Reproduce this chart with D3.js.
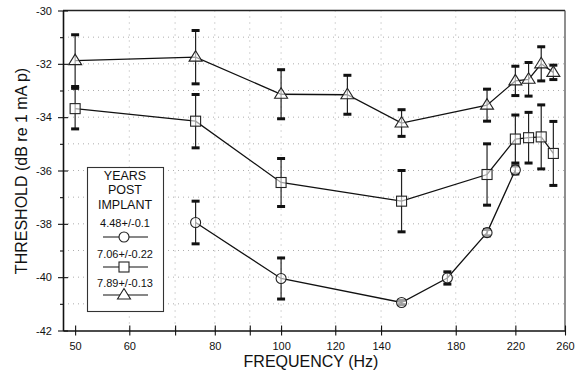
<!DOCTYPE html>
<html><head><meta charset="utf-8">
<script src="https://cdn.jsdelivr.net/npm/d3@7"></script>
<style>body{margin:0;background:#fff}svg{display:block}text{font-family:"Liberation Sans",Arial,sans-serif;fill:#111}</style>
</head><body><svg id="c" width="588" height="375"></svg>
<script>
const xTickLabels = [50, 60, 80, 100, 120, 140, 180, 220, 260];
const xMinorTicks = [70, 90];
const yTickLabels = [-30, -32, -34, -36, -38, -40, -42];

const freqCircle = [75, 100, 150, 175, 200, 220];
const valCircle  = [-37.95, -40.05, -40.95, -40.03, -38.33, -35.98];
const errCircle  = [0.8, 0.77, 0.08, 0.23, 0.12, 0.15];

const freqSquare = [50, 75, 100, 150, 200, 220, 230, 240, 250];
const valSquare  = [-33.68, -34.15, -36.45, -37.15, -36.15, -34.82, -34.77, -34.74, -35.36];
const errSquare  = [0.76, 1.0, 0.9, 1.15, 1.15, 0.9, 0.95, 1.2, 1.2];

const freqTri = [50, 75, 100, 125, 150, 200, 220, 230, 240, 250];
const valTri  = [-31.88, -31.75, -33.14, -33.16, -34.22, -33.55, -32.64, -32.58, -32.0, -32.32];
const errTri  = [0.97, 1.0, 0.92, 0.73, 0.5, 0.6, 0.55, 0.63, 0.64, 0.27];

const legendTitle = ["YEARS", "POST", "IMPLANT"];
const legendLabels = ["4.48+/-0.1", "7.06+/-0.22", "7.89+/-0.13"];
const shapes = ["circle", "square", "triangle"];

const svg = d3.select("#c");
const L = 63, R = 565, T = 10.5, B = 330.5;
const x = d3.scaleLog().domain([48, 260]).range([L, R]);
const y = d3.scaleLinear().domain([-42, -30]).range([B, T]);

// grid
const g = svg.append("g");
d3.range(-41, -30).forEach(v => {
  g.append("line").attr("x1", L).attr("x2", R).attr("y1", y(v)).attr("y2", y(v))
   .attr("stroke", "#999").attr("stroke-width", 0.8).attr("stroke-dasharray", "1,4");
});
xTickLabels.slice(1, -1).concat(xMinorTicks).forEach(f => {
  g.append("line").attr("x1", x(f)).attr("x2", x(f)).attr("y1", T).attr("y2", B)
   .attr("stroke", "#999").attr("stroke-width", 0.8).attr("stroke-dasharray", "1,5");
});

// frame
svg.append("line").attr("x1", L).attr("x2", R).attr("y1", T).attr("y2", T).attr("stroke", "#222").attr("stroke-width", 1.6);
svg.append("line").attr("x1", R).attr("x2", R).attr("y1", T).attr("y2", B).attr("stroke", "#444").attr("stroke-width", 1.2);

// axes
const xAxis = d3.axisBottom(x).tickValues(xTickLabels.concat(xMinorTicks))
  .tickFormat(d => xTickLabels.includes(d) ? d : "").tickSizeInner(5).tickSizeOuter(0).tickPadding(7);
const gx = svg.append("g").attr("transform", `translate(0,${B})`).call(xAxis);
gx.select(".domain").attr("stroke", "#111").attr("stroke-width", 1.4);
gx.selectAll(".tick line").attr("y1", -5).attr("stroke", "#111").attr("stroke-width", 1.1);
gx.selectAll(".tick text").attr("font-size", 11).attr("font-family", "Liberation Sans, Arial").attr("fill", "#111");

const yAxis = d3.axisLeft(y).tickValues(d3.range(-42, -29)).tickFormat(d => yTickLabels.includes(d) ? d : "")
  .tickSizeInner(5).tickSizeOuter(0).tickPadding(6);
const gy = svg.append("g").attr("transform", `translate(${L},0)`).call(yAxis);
gy.select(".domain").attr("stroke", "#111").attr("stroke-width", 1.6);
gy.selectAll(".tick line").attr("x2", d => yTickLabels.includes(d) ? 5 : 0).attr("x1", d => yTickLabels.includes(d) ? -5 : -3).attr("stroke", "#111").attr("stroke-width", 1.1);
gy.selectAll(".tick text").attr("font-size", 11).attr("font-family", "Liberation Sans, Arial").attr("fill", "#111");

// titles
svg.append("text").attr("x", 311).attr("y", 367).attr("text-anchor", "middle").attr("font-size", 16).text("FREQUENCY (Hz)");
svg.append("text").attr("transform", "translate(27,171) rotate(-90)").attr("text-anchor", "middle").attr("font-size", 16).text("THRESHOLD (dB re 1 mA p)");

// markers
function marker(sel, shape, cx, cy) {
  if (shape === "circle") sel.append("circle").attr("cx", cx).attr("cy", cy).attr("r", 5);
  else if (shape === "square") sel.append("rect").attr("x", cx - 5).attr("y", cy - 5).attr("width", 10).attr("height", 10);
  else sel.append("path").attr("d", `M${cx},${cy - 6.5}L${cx + 6.5},${cy + 4}L${cx - 6.5},${cy + 4}Z`);
}
const series = [
  {f: freqCircle, v: valCircle, e: errCircle, s: "circle"},
  {f: freqSquare, v: valSquare, e: errSquare, s: "square"},
  {f: freqTri, v: valTri, e: errTri, s: "triangle"}
];
const line = d3.line().x(d => x(d[0])).y(d => y(d[1]));
series.forEach(S => {
  const pts = S.f.map((f, i) => [f, S.v[i], S.e[i]]);
  const gs = svg.append("g");
  pts.forEach(p => {
    const cx = x(p[0]);
    gs.append("line").attr("x1", cx).attr("x2", cx).attr("y1", y(p[1] + p[2])).attr("y2", y(p[1] - p[2]))
      .attr("stroke", "#222").attr("stroke-width", 1.2);
    [p[1] + p[2], p[1] - p[2]].forEach(v => {
      gs.append("rect").attr("x", cx - 4).attr("y", y(v) - 1.5).attr("width", 8).attr("height", 3).attr("fill", "#111");
    });
  });
  gs.append("path").datum(pts).attr("d", line).attr("fill", "none").attr("stroke", "#111").attr("stroke-width", 1.3);
  const gm = gs.append("g").attr("fill", "#fff").attr("fill-opacity", 0.6).attr("stroke", "#222").attr("stroke-width", 1.1);
  pts.forEach(p => marker(gm, S.s, x(p[0]), y(p[1])));
});

// legend
const lg = svg.append("g");
lg.append("rect").attr("x", 87.5).attr("y", 167.5).attr("width", 76).attr("height", 144)
  .attr("fill", "#fff").attr("stroke", "#333").attr("stroke-width", 1.1);
legendTitle.forEach((t, i) => {
  lg.append("text").attr("x", 125).attr("y", 179.5 + i * 14.5).attr("text-anchor", "middle").attr("font-size", 12.5).text(t);
});
const labelY = [227, 258, 287], lineY = [237, 267, 295];
legendLabels.forEach((t, i) => {
  lg.append("text").attr("x", 125).attr("y", labelY[i]).attr("text-anchor", "middle").attr("font-size", 11).text(t);
  lg.append("line").attr("x1", 103).attr("x2", 148).attr("y1", lineY[i]).attr("y2", lineY[i]).attr("stroke", "#111").attr("stroke-width", 1.2);
  const gm = lg.append("g").attr("fill", "#fff").attr("stroke", "#222").attr("stroke-width", 1.1);
  marker(gm, shapes[i], 124, lineY[i]);
});
</script></body></html>
